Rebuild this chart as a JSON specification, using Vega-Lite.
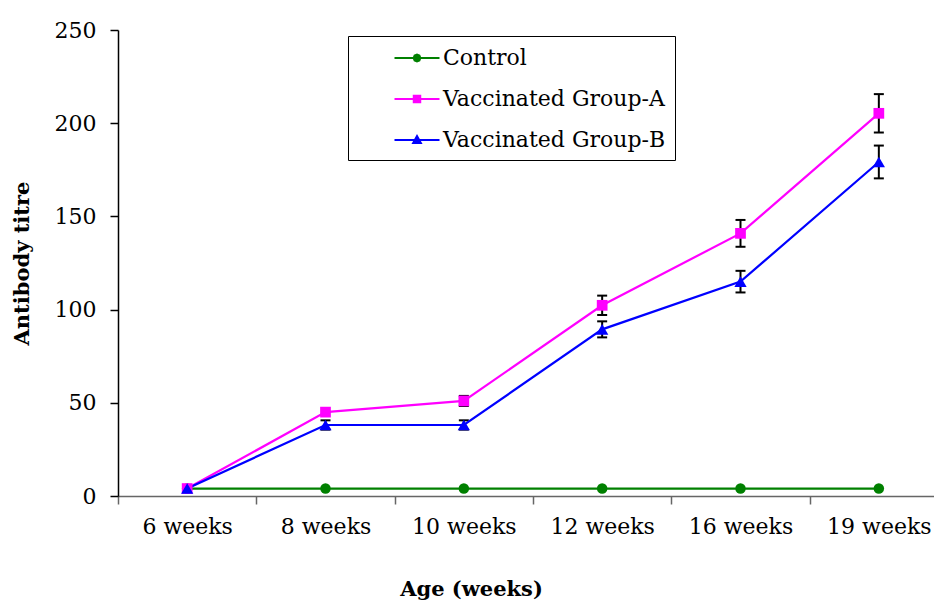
{
  "$schema": "https://vega.github.io/schema/vega-lite/v6.json",
  "width": 816,
  "height": 466,
  "autosize": "none",
  "padding": {"left": 118, "top": 30, "right": 0, "bottom": 106},
  "background": "white",
  "config": {
    "view": {"stroke": null},
    "font": "DejaVu Serif"
  },
  "data": {
    "values": [
      {"age": "6 weeks", "group": "Control", "value": 4},
      {"age": "8 weeks", "group": "Control", "value": 4},
      {"age": "10 weeks", "group": "Control", "value": 4},
      {"age": "12 weeks", "group": "Control", "value": 4},
      {"age": "16 weeks", "group": "Control", "value": 4},
      {"age": "19 weeks", "group": "Control", "value": 4},
      {"age": "6 weeks", "group": "Vaccinated Group-A", "value": 4},
      {"age": "8 weeks", "group": "Vaccinated Group-A", "value": 45},
      {"age": "10 weeks", "group": "Vaccinated Group-A", "value": 51, "lo": 48.3, "hi": 53.7},
      {"age": "12 weeks", "group": "Vaccinated Group-A", "value": 102.3, "lo": 97.1, "hi": 107.5},
      {"age": "16 weeks", "group": "Vaccinated Group-A", "value": 140.9, "lo": 133.7, "hi": 148.1},
      {"age": "19 weeks", "group": "Vaccinated Group-A", "value": 205.3, "lo": 195, "hi": 215.6},
      {"age": "6 weeks", "group": "Vaccinated Group-B", "value": 4},
      {"age": "8 weeks", "group": "Vaccinated Group-B", "value": 38.1, "lo": 35.6, "hi": 40.6},
      {"age": "10 weeks", "group": "Vaccinated Group-B", "value": 38.1, "lo": 35.6, "hi": 40.6},
      {"age": "12 weeks", "group": "Vaccinated Group-B", "value": 89.4, "lo": 85.1, "hi": 93.7},
      {"age": "16 weeks", "group": "Vaccinated Group-B", "value": 115, "lo": 109.2, "hi": 120.8},
      {"age": "19 weeks", "group": "Vaccinated Group-B", "value": 179.2, "lo": 170.4, "hi": 188}
    ]
  },
  "encoding": {
    "x": {
      "field": "age",
      "type": "nominal",
      "scale": {
        "domain": ["6 weeks", "8 weeks", "10 weeks", "12 weeks", "16 weeks", "19 weeks"],
        "range": [0, 830],
        "paddingInner": 0,
        "paddingOuter": 0
      },
      "axis": {
        "title": "Age (weeks)",
        "titleFont": "DejaVu Serif",
        "titleFontSize": 21,
        "titleFontWeight": "bold",
        "titleColor": "black",
        "titleX": 353,
        "titleY": 99,
        "titleBaseline": "alphabetic",
        "titleAlign": "center",
        "labelAngle": 0,
        "labelFont": "DejaVu Serif",
        "labelFontSize": 22,
        "labelColor": "black",
        "labelPadding": 12,
        "tickBand": "extent",
        "tickSize": 8,
        "tickColor": "#666666",
        "domainColor": "#666666",
        "tickWidth": 1.5,
        "domainWidth": 1.5,
        "grid": false
      }
    },
    "y": {
      "field": "value",
      "type": "quantitative",
      "scale": {"domain": [0, 250], "nice": false},
      "axis": {
        "title": "Antibody titre",
        "titleFont": "DejaVu Serif",
        "titleFontSize": 21,
        "titleFontWeight": "bold",
        "titleColor": "black",
        "titleAngle": -90,
        "titleX": -96,
        "titleY": 233,
        "titleAlign": "center",
        "titleBaseline": "middle",
        "values": [0, 50, 100, 150, 200, 250],
        "labelFont": "DejaVu Serif",
        "labelFontSize": 22,
        "labelColor": "black",
        "labelPadding": 14,
        "tickSize": 8,
        "tickColor": "black",
        "domainColor": "black",
        "tickWidth": 1.5,
        "domainWidth": 1.5,
        "grid": false
      }
    },
    "color": {
      "field": "group",
      "type": "nominal",
      "scale": {
        "domain": ["Control", "Vaccinated Group-A", "Vaccinated Group-B"],
        "range": ["#008000", "#FF00FF", "#0000FF"]
      },
      "legend": {
        "title": null,
        "orient": "none",
        "legendX": 230,
        "legendY": 6,
        "strokeColor": "black",
        "padding": 9,
        "symbolSize": 576,
        "symbolStrokeWidth": 2,
        "symbolOpacity": 1,
        "symbolOffset": 47,
        "labelOffset": 13,
        "rowPadding": 17,
        "labelFont": "DejaVu Serif",
        "labelFontSize": 22,
        "labelColor": "black",
        "labelLimit": 400,
        "encode": {
          "symbols": {
            "update": {
              "stroke": {"scale": "color", "field": "value"},
              "fill": {"scale": "color", "field": "value"},
              "strokeWidth": {"value": 2},
              "opacity": {"value": 1}
            }
          }
        }
      }
    }
  },
  "layer": [
    {
      "transform": [{"filter": "isValid(datum.lo)"}],
      "mark": {"type": "rule", "strokeWidth": 2},
      "encoding": {
        "y": {"field": "lo", "type": "quantitative"},
        "y2": {"field": "hi"},
        "color": {"value": "black"}
      }
    },
    {
      "transform": [{"filter": "isValid(datum.lo)"}],
      "mark": {"type": "tick", "thickness": 2, "size": 10, "opacity": 1},
      "encoding": {
        "y": {"field": "lo", "type": "quantitative"},
        "color": {"value": "black"}
      }
    },
    {
      "transform": [{"filter": "isValid(datum.hi)"}],
      "mark": {"type": "tick", "thickness": 2, "size": 10, "opacity": 1},
      "encoding": {
        "y": {"field": "hi", "type": "quantitative"},
        "color": {"value": "black"}
      }
    },
    {
      "mark": {"type": "line", "strokeWidth": 2.2}
    },
    {
      "transform": [{"filter": "datum.group == 'Control'"}],
      "mark": {"type": "point", "filled": true, "opacity": 1, "size": 110, "shape": "circle"}
    },
    {
      "transform": [{"filter": "datum.group == 'Vaccinated Group-A'"}],
      "mark": {"type": "point", "filled": true, "opacity": 1, "size": 115, "shape": "square"}
    },
    {
      "transform": [{"filter": "datum.group == 'Vaccinated Group-B'"}],
      "mark": {"type": "point", "filled": true, "opacity": 1, "size": 150, "shape": "triangle-up"}
    },
    {
      "transform": [{"filter": "datum.age == '6 weeks'"}],
      "mark": {"type": "point", "filled": true, "opacity": 0},
      "encoding": {
        "shape": {
          "field": "group",
          "type": "nominal",
          "scale": {
            "domain": ["Control", "Vaccinated Group-A", "Vaccinated Group-B"],
            "range": [
              "M-1.875,0L1.875,0M0.28,0L0.2,0.2L0,0.28L-0.2,0.2L-0.28,0L-0.2,-0.2L0,-0.28L0.2,-0.2Z",
              "M-1.875,0L1.875,0M-0.27,-0.27L0.27,-0.27L0.27,0.27L-0.27,0.27Z",
              "M-1.875,0L1.875,0M-0.32,0.25L0,-0.32L0.32,0.25Z"
            ]
          },
          "legend": {
            "title": null,
            "orient": "none",
            "legendX": 230,
            "legendY": 6,
            "strokeColor": "black",
            "padding": 9,
            "symbolSize": 576,
            "symbolStrokeWidth": 2,
            "symbolOpacity": 1,
            "symbolOffset": 47,
            "labelOffset": 13,
            "rowPadding": 17,
            "labelFont": "DejaVu Serif",
            "labelFontSize": 22,
            "labelColor": "black",
            "labelLimit": 400
          }
        }
      }
    }
  ]
}
